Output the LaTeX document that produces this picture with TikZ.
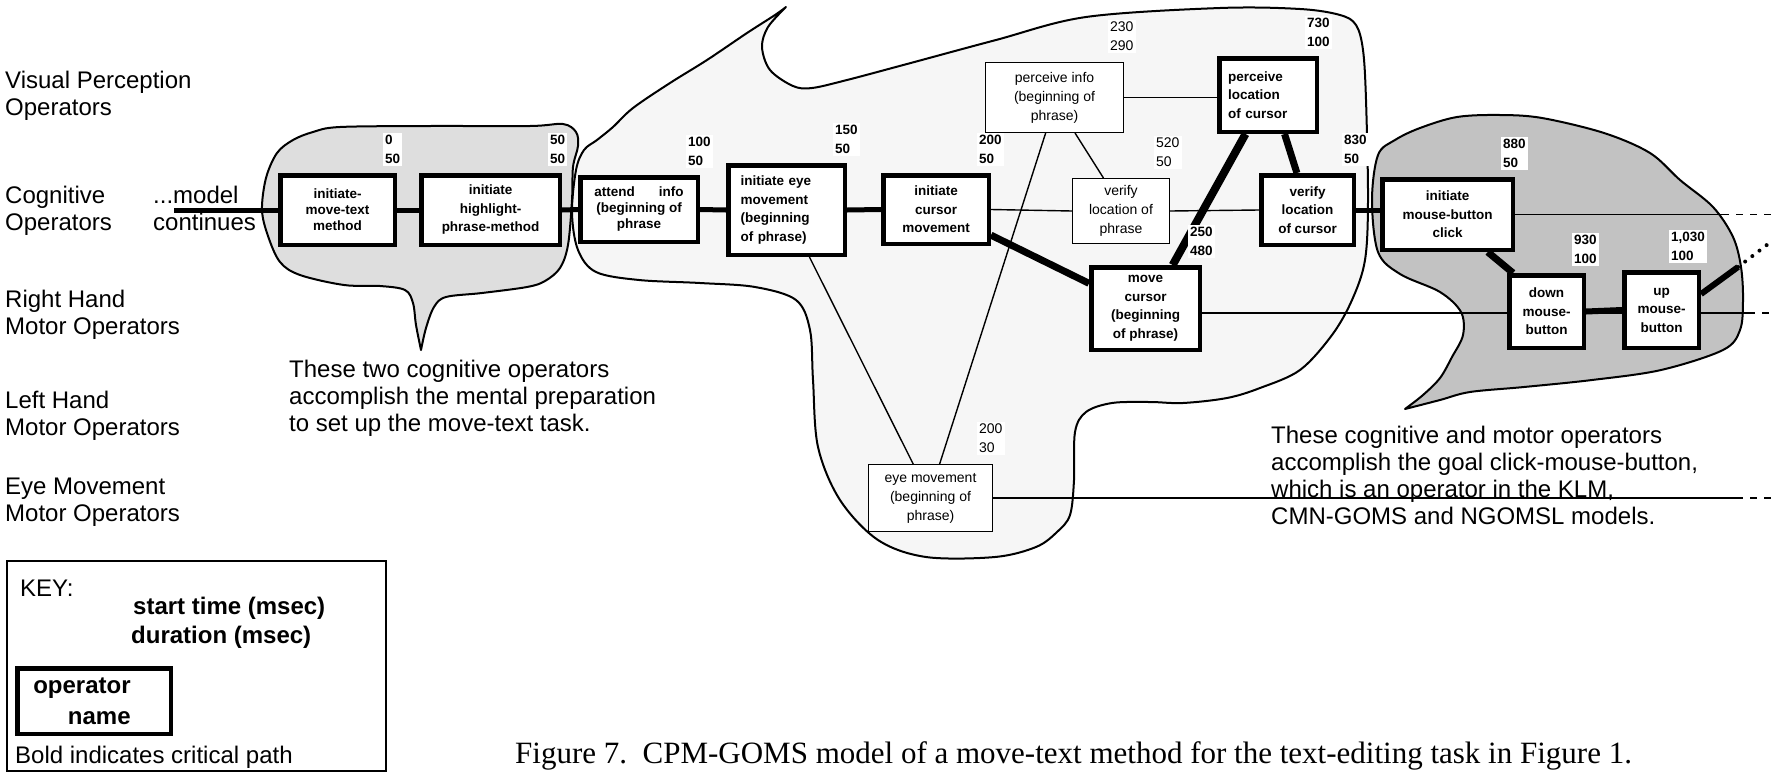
\documentclass[tikz,border=0pt]{standalone}
\usepackage{fontspec}
\setmainfont{Liberation Sans}
\newfontfamily\capfont{Liberation Serif}
\usepackage{tikz}
\usetikzlibrary{calc,backgrounds}
\definecolor{cogfill}{gray}{0.87}
\definecolor{midfill}{gray}{0.965}
\definecolor{clkfill}{gray}{0.76}
\tikzset{
  opbox/.style={draw,line width=4.5pt,fill=white,align=center,inner sep=1pt,
    font=\fontsize{13.5}{18.5}\selectfont\bfseries},
  thinbox/.style={draw,line width=1.4pt,fill=white,align=center,inner sep=1pt,
    font=\fontsize{14}{19}\selectfont},
  stampbox/.style={anchor=south west,fill=white,align=left,inner sep=2pt,
    font=\fontsize{13.5}{19}\selectfont\bfseries},
  thinstamp/.style={stampbox,font=\fontsize{14}{19}\selectfont,xshift=-2pt,yshift=2pt},
  rowtext/.style={anchor=west,align=left,inner sep=0pt,font=\fontsize{24}{27}\selectfont},
  note/.style={anchor=north west,align=left,inner sep=0pt,font=\fontsize{24}{27}\selectfont},
  keytext/.style={anchor=base west,inner sep=0pt,font=\fontsize{24}{27}\selectfont},
  crit/.style={line width=5pt},
  link/.style={line width=1.4pt},
  more/.style={line width=1.4pt,dash pattern=on 7pt off 7pt},
  dotrun/.style={line width=4pt,line cap=round,dash pattern=on 0pt off 9pt},
  blob/.style={draw,line width=2pt,line join=round}
}
% operator boxes: [opts]{centre}{w}{h}{text}{name}
\newcommand{\opnode}[6][]{
  \node [opbox,minimum width=#3,minimum height=#4,#1] at #2 (#6) {#5};
}
\newcommand{\thinnode}[6][]{
  \node [thinbox,minimum width=#3,minimum height=#4,#1] at #2 (#6) {#5};
}
% start time / duration above a box
\newcommand{\stamp}[4][stampbox]{
  \node [#1] at ($(#2.north east)+(-14,-7)$) (#2t) {#3\\#4};
}

\begin{document}
\begin{tikzpicture}[x=1pt,y=-1pt]
  \useasboundingbox (0,0) rectangle (1776,774);

  \begin{scope}[on background layer]
    \draw [blob,fill=midfill] plot [smooth,tension=0.55] coordinates {
      (786,7) (768,27) (762,47) (770,70) (793,86) (812,88) (847,80) (907,64)
      (996,40) (1086,17) (1220,8) (1300,9) (1340,15) (1356,25) (1363,50)
      (1366,100) (1368,200) (1365,260) (1352,300) (1332,335) (1300,370)
      (1260,388) (1227,398) (1183,403) (1150,402) (1112,403) (1086,412)
      (1075,432) (1074,480) (1070,515) (1057,532) (1036,547) (995,557)
      (926,557) (878,540) (840,500) (818,447) (813,380) (810,330) (796,300)
      (755,287) (700,283) (639,280) (596,272) (578,250) (572,213) (576,170)
      (584,150) (597,140) (613,127) (633,108) (670,83) (707,60) (747,33)
      (775,15) (786,7)} -- cycle;
    \draw [blob,fill=cogfill] plot [smooth,tension=0.55] coordinates {
      (421,350) (416,325) (413,303) (405,290) (380,286) (344,285) (300,275)
      (280,262) (268,236) (262,210) (266,178) (277,153) (293,140) (313,132)
      (340,127) (430,126) (530,126) (563,124) (576,132) (578,146) (573,167)
      (572,200) (568,245) (560,268) (545,281) (527,287) (482,293) (446,297)
      (434,307) (426,328) (421,350)} -- cycle;
    \draw [blob,fill=clkfill] plot [smooth,tension=0.55] coordinates {
      (1405,409) (1423,395) (1440,378) (1452,357) (1463,335) (1461,312)
      (1440,292) (1400,274) (1378,252) (1372,200) (1378,155) (1395,140)
      (1420,128) (1457,117) (1500,115) (1542,118) (1604,133) (1650,153)
      (1680,180) (1713,207) (1733,237) (1741,267) (1743,300) (1740,330)
      (1723,350) (1661,370) (1592,380) (1524,387) (1470,392) (1440,400)
      (1405,409)} -- cycle;
  \end{scope}

  \coordinate (cont) at (174,210);
  \coordinate (cend) at (1722,213);
  \coordinate (cfar) at (1776,213);
  \coordinate (rend) at (1748,313);
  \coordinate (rfar) at (1776,313);
  \coordinate (eend) at (1736,498);
  \coordinate (efar) at (1776,498);
  \coordinate (uend) at (1738,267);
  \coordinate (ufar) at (1772,241);

  \opnode[font=\fontsize{13.5}{16}\selectfont\bfseries]{(337.5,210)}{114.5}{69.5}{initiate-\\move-text\\method}{imt}
  \opnode{(490.5,210)}{138.5}{69.5}{initiate\\highlight-\\phrase-method}{ihp}
  \opnode[font=\fontsize{13.5}{16}\selectfont\bfseries]{(639,209.5)}{117.5}{64.5}{attend\hspace{24pt}info\\(beginning of\\phrase}{ati}
  \opnode[align=left,text width=92]{(786.5,210)}{116.5}{89.5}{initiate eye\\movement\\(beginning\\of phrase)}{iem}
  \opnode{(936,209.5)}{105.5}{68.5}{initiate\\cursor\\movement}{icm}
  \thinnode{(1054.5,97.5)}{137.5}{69.5}{perceive info\\(beginning of\\phrase)}{pin}
  \thinnode{(1121,211)}{96.5}{64.5}{verify\\location of\\phrase}{vlp}
  \opnode[align=left,text width=80]{(1268,95)}{97.5}{73.5}{perceive\\location\\of cursor}{plc}
  \opnode{(1307.5,210)}{92.5}{69.5}{verify\\location\\of cursor}{vlc}
  \opnode{(1447.5,214.5)}{130.5}{70.5}{initiate\\mouse-button\\click}{imc}
  \opnode{(1145.5,308.5)}{108.5}{82.5}{move\\cursor\\(beginning\\of phrase)}{mvc}
  \opnode{(1546.5,311.5)}{74.5}{72.5}{down\\mouse-\\button}{dmb}
  \opnode{(1661.5,310)}{74.5}{75.5}{up\\mouse-\\button}{umb}
  \thinnode{(930.5,498)}{123.5}{66.5}{eye movement\\(beginning of\\phrase)}{eym}

  \stamp{imt}{0}{50}
  \stamp{ihp}{50}{50}
  \stamp{ati}{100}{50}
  \stamp{iem}{150}{50}
  \stamp{icm}{200}{50}
  \stamp[thinstamp]{pin}{230}{290}
  \stamp[thinstamp]{vlp}{520}{50}
  \stamp{plc}{730}{100}
  \stamp{vlc}{830}{50}
  \stamp{mvc}{250}{480}
  \stamp{imc}{880}{50}
  \stamp{dmb}{930}{100}
  \stamp[stampbox,xshift=-18pt]{umb}{1,030}{100}
  \stamp[thinstamp]{eym}{200}{30}

  \begin{scope}[on background layer]
    % critical path
    \draw [crit] (cont) -- (imt.west);
    \draw [crit] (imt.east) -- (ihp.west);
    \draw [crit] (ihp.east) -- (ati.west);
    \draw [crit] (ati.east) -- (iem.west);
    \draw [crit] (iem.east) -- (icm.west);
    \draw [crit,line width=7pt] (icm.-25) -- (mvc.156);
    \draw [crit,line width=8pt] (plc.240) -- (mvc.58);
    \draw [crit,line width=7pt] (plc.-67) -- (vlc.106);
    \draw [crit] (vlc.east) -- (vlc.east -| imc.west);
    \draw [crit,line width=7pt] (imc.-43) -- (dmb.131);
    \draw [crit,line width=6pt] (dmb.east) -- (umb.west);
    \draw [crit,line width=6pt] (umb.22) -- (uend);
    \draw [dotrun] (uend) -- (ufar);
    % other dependencies
    \draw [link] (icm.east) -- (vlp.west);
    \draw [link] (vlp.east) -- (vlc.west);
    \draw [link] (pin.east) -- (pin.east -| plc.west);
    \draw [link] (pin.256) -- (eym.75);
    \draw [link] (pin.-60) -- (vlp.118);
    \draw [link] (iem.-64) -- (eym.117);
    \draw [link] (imc.east) -- (imc.east -| cend);
    \draw [more] (imc.east -| cend) -- (imc.east -| cfar);
    \draw [link] (mvc.east |- rend) -- (rend);
    \draw [more] (rend) -- (rfar);
    \draw [link] (eym.east) -- (eend);
    \draw [more] (eend) -- (efar);
  \end{scope}

  \node [rowtext] (vpo) at (5,95.3) {Visual Perception\\Operators};
  \node [rowtext] (cgo) at (5,210.8) {Cognitive\\Operators};
  \node [rowtext] (rho) at (5,314.8) {Right Hand\\Motor Operators};
  \node [rowtext] (lho) at (5,415.8) {Left Hand\\Motor Operators};
  \node [rowtext] (emo) at (5,501.8) {Eye Movement\\Motor Operators};
  \node [rowtext] (mdc) at (153,208.5) {...model\\continues};

  \node [note] (ann1) at (289,360) {These two cognitive operators\\accomplish the mental preparation\\to set up the move-text task.};
  \node [note] (ann2) at (1271,425.5) {These cognitive and motor operators\\accomplish the goal click-mouse-button,\\which is an operator in the KLM,\\CMN-GOMS and NGOMSL models.};

  % key
  \node [draw,line width=2pt,minimum width=379,minimum height=210] (keyb) at (196.5,666) {};
  \node [keytext] (keyt) at (20,596) {KEY:};
  \node [keytext,font=\fontsize{24}{27}\selectfont\bfseries] (kst) at (133,614) {start time (msec)};
  \node [keytext,font=\fontsize{24}{27}\selectfont\bfseries] (kdu) at (131,643) {duration (msec)};
  \node [opbox,minimum width=153.5,minimum height=65.5] (kop) at (94,701) {};
  \node [align=right,inner sep=0pt,font=\fontsize{24}{31}\selectfont\bfseries] (kopt) at (82,701) {operator\\name};
  \node [keytext] (kbi) at (15,763) {Bold indicates critical path};

  \node [anchor=base west,inner sep=0pt,font=\capfont\fontsize{31}{36}\selectfont] (cap) at (515,763)
    {Figure 7.\ \ CPM-GOMS model of a move-text method for the text-editing task in Figure 1.};

  \iffalse
  \begin{scope}[on background layer]
    \draw[help lines,step=50] (0,0) grid (1776,774);
  \end{scope}
  \fi
\end{tikzpicture}
\end{document}
